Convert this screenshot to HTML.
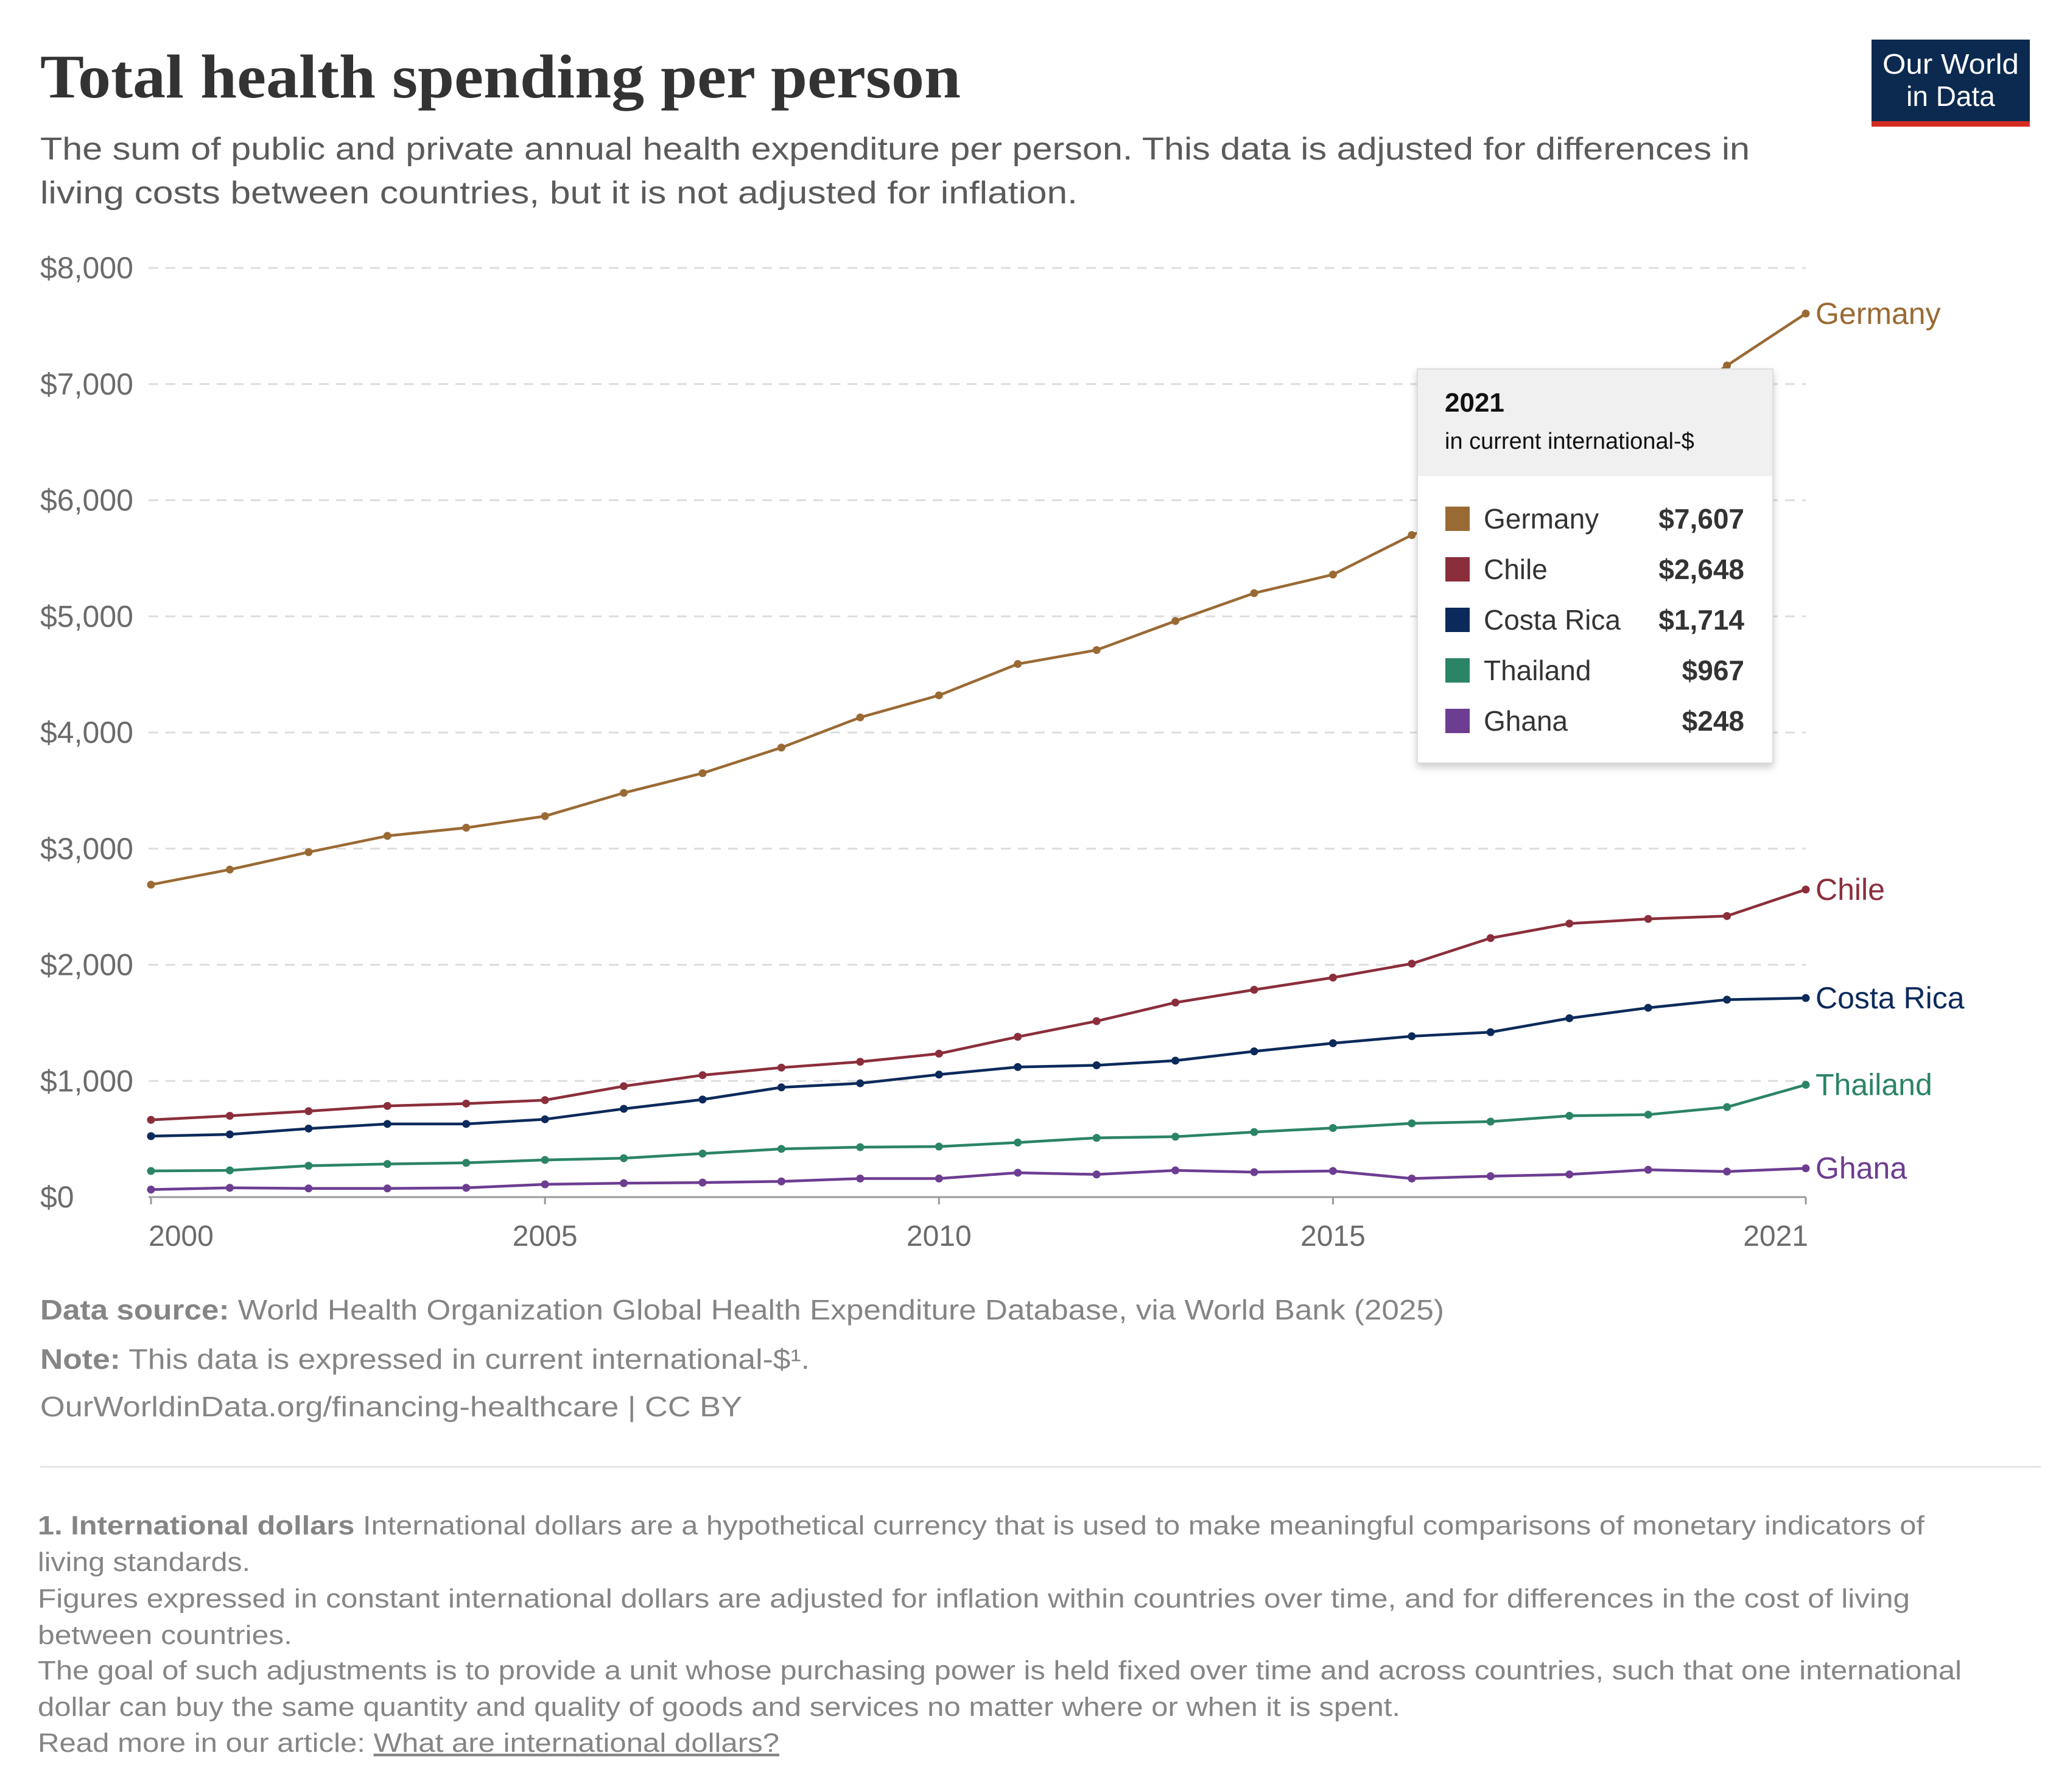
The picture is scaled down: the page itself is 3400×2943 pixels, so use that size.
<!DOCTYPE html>
<html><head><meta charset="utf-8"><style>
html,body{margin:0;padding:0;background:#fff}
svg{display:block;font-family:"Liberation Sans",sans-serif}
</style></head><body>
<svg id="chart" width="3400" height="2943" viewBox="0 0 3400 2943" xmlns="http://www.w3.org/2000/svg">
<rect width="3400" height="2943" fill="#fff"/>
<text x="66" y="160" font-family="Liberation Serif,serif" font-weight="bold" font-size="102" fill="#333" textLength="1512" lengthAdjust="spacingAndGlyphs">Total health spending per person</text>
<g font-size="52" fill="#5b5b5b">
<text x="66" y="262" textLength="2808" lengthAdjust="spacingAndGlyphs">The sum of public and private annual health expenditure per person. This data is adjusted for differences in</text>
<text x="66" y="334" textLength="1704" lengthAdjust="spacingAndGlyphs">living costs between countries, but it is not adjusted for inflation.</text>
</g>
<g>
<rect x="3091" y="65" width="260" height="136" fill="#0c2a4f" transform="translate(-17,0)"/>
<rect x="3074" y="199" width="260" height="9" fill="#d42b21"/>
<text x="3204" y="121" text-anchor="middle" font-size="46" fill="#fff" textLength="224" lengthAdjust="spacingAndGlyphs">Our World</text>
<text x="3204" y="174" text-anchor="middle" font-size="46" fill="#fff">in Data</text>
</g>
<g id="grid"></g><g id="axes"></g><g id="series"></g><g id="labels"></g>
<g transform="translate(-11,0)">
<rect x="2339" y="606" width="584" height="647" fill="#fff" stroke="#ddd" stroke-width="2" style="filter:drop-shadow(0 6px 6px rgba(0,0,0,0.2))"/>
<rect x="2340" y="607" width="582" height="175" fill="#f0f0f0"/>
<text x="2384" y="676" font-size="44" font-weight="bold" fill="#111">2021</text>
<text x="2384" y="737" font-size="38" fill="#111">in current international-$</text>
<g id="tiprows"></g>
</g>
<g font-size="46" fill="#858585">
<text x="66" y="2167" textLength="2306" lengthAdjust="spacingAndGlyphs"><tspan font-weight="bold">Data source:</tspan> World Health Organization Global Health Expenditure Database, via World Bank (2025)</text>
<text x="66" y="2248" textLength="1264" lengthAdjust="spacingAndGlyphs"><tspan font-weight="bold">Note:</tspan> This data is expressed in current international-$¹.</text>
<text x="66" y="2326" textLength="1153" lengthAdjust="spacingAndGlyphs">OurWorldinData.org/financing-healthcare | CC BY</text>
<line x1="66" y1="2409" x2="3352" y2="2409" stroke="#e3e3e3" stroke-width="3"/>
</g>
<g font-size="44" fill="#858585">
<text x="62" y="2520" textLength="3099" lengthAdjust="spacingAndGlyphs"><tspan font-weight="bold">1. International dollars</tspan> International dollars are a hypothetical currency that is used to make meaningful comparisons of monetary indicators of</text>
<text x="62" y="2580" textLength="349" lengthAdjust="spacingAndGlyphs">living standards.</text>
<text x="62" y="2640" textLength="3075" lengthAdjust="spacingAndGlyphs">Figures expressed in constant international dollars are adjusted for inflation within countries over time, and for differences in the cost of living</text>
<text x="62" y="2700" textLength="418" lengthAdjust="spacingAndGlyphs">between countries.</text>
<text x="62" y="2758" textLength="3160" lengthAdjust="spacingAndGlyphs">The goal of such adjustments is to provide a unit whose purchasing power is held fixed over time and across countries, such that one international</text>
<text x="62" y="2818" textLength="2238" lengthAdjust="spacingAndGlyphs">dollar can buy the same quantity and quality of goods and services no matter where or when it is spent.</text>
<text x="62" y="2877" textLength="1218" lengthAdjust="spacingAndGlyphs">Read more in our article: <tspan text-decoration="underline">What are international dollars?</tspan></text>
</g>
</svg>
<script>
const years=[2000,2001,2002,2003,2004,2005,2006,2007,2008,2009,2010,2011,2012,2013,2014,2015,2016,2017,2018,2019,2020,2021];
const germany=[2690,2820,2970,3110,3180,3280,3480,3650,3870,4130,4320,4590,4710,4960,5200,5360,5700,5960,6260,6660,7160,7607];
const chile=[665,700,740,785,805,835,955,1050,1115,1165,1235,1380,1515,1675,1785,1890,2010,2230,2355,2395,2420,2648];
const costaRica=[525,540,590,630,630,670,760,840,945,980,1055,1120,1135,1175,1255,1325,1385,1420,1540,1630,1700,1714];
const thailand=[225,230,270,285,295,320,335,375,415,430,435,470,510,520,560,595,635,650,700,710,775,967];
const ghana=[65,80,75,75,80,110,120,125,135,160,160,210,195,230,215,225,160,180,195,235,220,248];
const seriesNames=["Germany","Chile","Costa Rica","Thailand","Ghana"];
const yTicks=[0,1000,2000,3000,4000,5000,6000,7000,8000];
const yTickLabels=["$0","$1,000","$2,000","$3,000","$4,000","$5,000","$6,000","$7,000","$8,000"];
const xTicks=[2000,2005,2010,2015,2021];
const tipValues=["$7,607","$2,648","$1,714","$967","$248"];

const NS="http://www.w3.org/2000/svg";
const X0=248,X1=2966,Y0=1966,Y1=440;
const x=v=>X0+(v-2000)/(2021-2000)*(X1-X0);
const y=v=>Y0-v/8000*(Y0-Y1);
function mk(tag,attrs,parent){const e=document.createElementNS(NS,tag);for(const k in attrs)e.setAttribute(k,attrs[k]);parent.appendChild(e);return e;}
const grid=document.getElementById('grid'),axes=document.getElementById('axes'),ser=document.getElementById('series'),lab=document.getElementById('labels'),tip=document.getElementById('tiprows');
yTicks.forEach((t,i)=>{
  if(t>0){const l=mk('line',{x1:244,x2:X1,y1:y(t),y2:y(t),stroke:'#ddd','stroke-width':3,'stroke-dasharray':'16,12'},grid);
  
  }
  const tx=mk('text',{x:66,y:y(t)+17,'font-size':50,fill:'#6b6b6b'},axes);
  tx.textContent=yTickLabels[i];
  
  
});
const ax=mk('line',{x1:244,x2:X1,y1:Y0,y2:Y0,stroke:'#999','stroke-width':3},axes);


xTicks.forEach((t,i)=>{
  mk('line',{x1:x(t),x2:x(t),y1:Y0,y2:Y0+12,stroke:'#999','stroke-width':3},axes);
  const anchor=i===0?'start':(i===xTicks.length-1?'end':'middle');
  const tx=mk('text',{x:i===0?x(t)-4:(i===xTicks.length-1?x(t)+4:x(t)),y:2046,'font-size':48,fill:'#6b6b6b','text-anchor':anchor},axes);
  tx.textContent=String(t);
  
  
});
const data=[germany,chile,costaRica,thailand,ghana];
const colors=["#9a6a34","#8b2e3c","#0b2a5b","#2b8465","#6c3d91"];
data.forEach((arr,si)=>{
  const g=mk('g',{},ser);
  
  
  const pts=arr.map((v,i)=>x(years[i])+','+y(v)).join(' ');
  mk('polyline',{points:pts,fill:'none',stroke:colors[si],'stroke-width':4.5,'stroke-linejoin':'round'},g);
  arr.forEach((v,i)=>{const c=mk('circle',{cx:x(years[i]),cy:y(v),r:6.5,fill:colors[si]},g);
    
    });
  const last=arr[arr.length-1];
  const t=mk('text',{x:2982,y:y(last)+17,'font-size':50,fill:colors[si]},lab);
  t.textContent=seriesNames[si];
  
  
  const ry=868+si*83;
  const sw=mk('rect',{x:2385,y:ry-36,width:40,height:40,fill:colors[si]},tip);
  
  
  const n=mk('text',{x:2448,y:ry,'font-size':46,fill:'#333'},tip);
  n.textContent=seriesNames[si];
  
  
  const vv=mk('text',{x:2876,y:ry,'font-size':46,'font-weight':'bold',fill:'#333','text-anchor':'end'},tip);
  vv.textContent=tipValues[si];
  
  
});
</script>
</body></html>
